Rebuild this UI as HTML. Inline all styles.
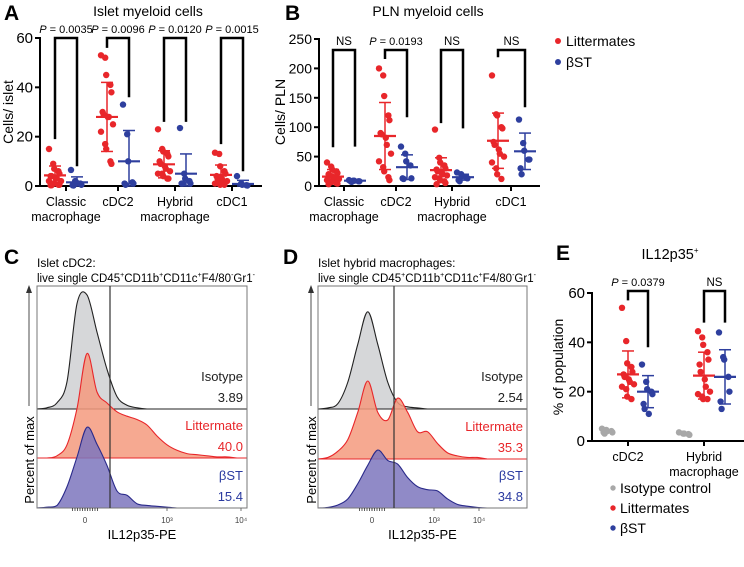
<!DOCTYPE html>
<html><head><meta charset="utf-8"><style>
body{margin:0;background:#fff}
svg{display:block;font-family:"Liberation Sans",Arial,sans-serif}
</style></head><body>
<svg id="fig" width="744" height="567" viewBox="0 0 744 567"></svg>
<script>
// ===== Panel A data (Islet myeloid cells) =====
const catsA=["Classic macrophage","cDC2","Hybrid macrophage","cDC1"];
const aRed=[[15,9,7,6,5,4,4,3,3,2,2,1,1,0.5,0.5,0.3,0.3],[53,52,45,41,38,30,29,28,28,25,22,17,15,10,9],[23,15,14,13,12,10,9,8,7,6,5,5,4,3,3],[13.5,13,8,6,5,4,3,3,2,2,1,1,0.5,0.5]];
const aBlue=[[6.5,2,1.5,1,0.5,0.3,0.2],[33,21,10,1.5,1,1,0.5],[23.5,5,3,2,1,1,1],[4,1,0.5,0.3,0.2]];
const aRedMean=[4.3,28,8.8,4.5], aRedSd=[3.8,14,5.5,4];
const aBlueMean=[1.5,10,5,0.8], aBlueSd=[2.2,12.5,8,1.5];
const aLegR=[19,56,26,17], aLegB=[8,36,26,6];
const aP=["0.0035","0.0096","0.0120","0.0015"];
const aTicks=[0,20,40,60];
// ===== Panel B data (PLN myeloid cells) =====
const bRed=[[40,33,28,25,22,20,18,15,13,12,10,8,7,5,4,3],[200,188,153,120,112,90,88,82,70,55,42,32,25,15,10],[96,48,40,35,30,28,25,22,20,18,15,13,10,8,5,3],[188,122,120,100,98,75,70,62,55,50,40,30,20,12]];
const bBlue=[[10,9,9,8,8,8,7],[67,55,42,35,13,13,12],[23,20,17,15,13,10,8],[113,73,60,45,45,30,20]];
const bRedMean=[16,85,27,77], bRedSd=[12,57,21,47];
const bBlueMean=[9,32,15,59], bBlueSd=[1,21,5,31];
const bLegR=[66,216,107,219], bLegB=[67,117,98,134];
const bP=["NS","0.0193","NS","NS"];
const bTicks=[0,50,100,150,200,250];
// ===== Panel E data (IL12p35+) =====
const eIso=[[5,4.5,4,4,3.5,3.5,3],[3.5,3,3,2.8,2.5]];
const eRed=[[54,40.5,31.5,30,28,27,26,25,24,23,22,21,18,17],[44.5,42,39,36,33,31,28,25,22,20,19,18,17,17]];
const eBlue=[[31,24,21,20,19,15,13,11],[44,34,33,26,20,16,13]];
const eRedMean=[27,26.5], eRedSd=[9.5,9.5];
const eBlueMean=[20,26], eBlueSd=[6.5,11];
const eLegR=[57,48], eLegB=[38,48];
const eP=["0.0379","NS"];
const eTicks=[0,20,40,60];
// ===== Histograms (fraction of max per channel bin) =====
const cIso=[0,0.01,0.05,0.22,0.85,0.92,0.62,0.32,0.1,0.03,0.01,0,0,0,0,0,0,0,0,0,0,0];
const cLit=[0,0,0.02,0.12,0.45,0.95,0.6,0.5,0.42,0.38,0.35,0.3,0.2,0.12,0.07,0.04,0.03,0.02,0.01,0.01,0,0];
const cBst=[0,0.01,0.03,0.25,0.6,0.95,0.75,0.5,0.2,0.15,0.05,0.03,0.02,0.01,0,0,0,0,0,0,0,0];
const dIso=[0,0.01,0.05,0.25,0.6,0.9,0.6,0.25,0.06,0.02,0.01,0,0,0,0,0,0,0,0,0,0,0];
const dLit=[0,0.02,0.1,0.25,0.6,1.0,0.6,0.5,0.78,0.6,0.35,0.35,0.2,0.08,0.04,0.02,0.02,0,0,0,0,0];
const dBst=[0,0.01,0.05,0.15,0.4,0.7,0.95,0.78,0.72,0.5,0.35,0.3,0.28,0.15,0.06,0.03,0.01,0,0,0,0,0];
const cVals=["3.89","40.0","15.4"], dVals=["2.54","35.3","34.8"];

const NS="http://www.w3.org/2000/svg";
const svg=document.getElementById('fig');
const RED="#e8262a",BLUE="#2e3f9e",GRAY="#a8a8a8";
function el(tag,attrs,parent){const e=document.createElementNS(NS,tag);for(const k in attrs)e.setAttribute(k,attrs[k]);(parent||svg).appendChild(e);return e;}
function txt(x,y,s,size,attrs,parent){const t=el('text',Object.assign({x:x,y:y,'font-size':size},attrs||{}),parent);t.textContent=s;return t;}

function dotPanel(cfg){
  const g=el('g',{});
  
  
  const y=v=>cfg.y0-(v/cfg.max)*(cfg.y0-cfg.yTop);
  const ax=el('path',{d:`M${cfg.x0},${cfg.yTop-1}V${cfg.y0}H${cfg.x1}`,stroke:'#000','stroke-width':2,fill:'none'},g);
  
  
  cfg.ticks.forEach(t=>{
    el('line',{x1:cfg.x0-5,x2:cfg.x0,y1:y(t),y2:y(t),stroke:'#000','stroke-width':2},g);
    const tl=txt(cfg.x0-7,y(t)+5,String(t),cfg.tickFont||15,{'text-anchor':'end'},g);
    
    
  });
  cfg.groups.forEach((gr,i)=>{
    el('line',{x1:gr.c,x2:gr.c,y1:cfg.y0,y2:cfg.y0+5,stroke:'#000','stroke-width':2},g);
    gr.label.forEach((l,j)=>{const t=txt(gr.c,cfg.y0+20+j*15,l,12.5,{'text-anchor':'middle'},g);
      
      });
  });
  cfg.series.forEach(s=>{
    s.data.forEach((pts,i)=>{
      const cx=s.xs[i];
      pts.forEach((v,k)=>{
        const off=((k%5)-2)*2.6+((k%2)?1:-1)*0.8;
        const c=el('circle',{cx:cx+off,cy:y(v),r:3.2,fill:s.color},g);
        
        
      });
      if(s.mean){
        const m=s.mean[i],sd=s.sd[i];
        const lo=Math.max(0,m-sd),hi=m+sd;
        el('line',{x1:cx,x2:cx,y1:y(lo),y2:y(hi),stroke:s.color,'stroke-width':1.5},g);
        el('line',{x1:cx-6,x2:cx+6,y1:y(lo),y2:y(lo),stroke:s.color,'stroke-width':1.5},g);
        el('line',{x1:cx-6,x2:cx+6,y1:y(hi),y2:y(hi),stroke:s.color,'stroke-width':1.5},g);
        const mb=el('line',{x1:cx-11,x2:cx+11,y1:y(m),y2:y(m),stroke:s.color,'stroke-width':2.2},g);
        
        
      }
    });
  });
  cfg.brackets.forEach((b,i)=>{
    const br=el('path',{d:`M${b.xl},${y(b.lr)}V${cfg.brTop}H${b.xr}V${y(b.lb)}`,stroke:'#000','stroke-width':2.5,fill:'none'},g);
    
    
    const mid=(b.xl+b.xr)/2;
    let t;
    if(b.p==="NS"){t=txt(mid,cfg.pY,"NS",11.5,{'text-anchor':'middle'},g);}
    else{t=el('text',{x:mid,y:cfg.pY,'font-size':11,'text-anchor':'middle'},g);
      const i1=el('tspan',{'font-style':'italic'},t);i1.textContent='P';
      const i2=el('tspan',{},t);i2.textContent=' = '+b.p;}
    
    
  });
}

const axA=[55,107,164,221], axB=[77,129,186,243];
dotPanel({name:'panel-a-chart',x0:40,x1:262,y0:186,yTop:38,max:60,ticks:aTicks,brTop:38,pY:33,
  groups:[{c:66,label:["Classic","macrophage"]},{c:118,label:["cDC2"]},{c:175,label:["Hybrid","macrophage"]},{c:232,label:["cDC1"]}],
  series:[{data:aRed,xs:axA,color:RED,mean:aRedMean,sd:aRedSd},{data:aBlue,xs:axB,color:BLUE,mean:aBlueMean,sd:aBlueSd}],
  brackets:aP.map((p,i)=>({xl:axA[i],xr:axB[i],lr:aLegR[i],lb:aLegB[i],p:p}))});
const bxA=[333,385,441,498], bxB=[355,407,463,525];
dotPanel({name:'panel-b-chart',x0:319,x1:540,y0:186,yTop:39,max:250,ticks:bTicks,brTop:50,pY:45,tickFont:14,
  groups:[{c:344,label:["Classic","macrophage"]},{c:396,label:["cDC2"]},{c:452,label:["Hybrid","macrophage"]},{c:511,label:["cDC1"]}],
  series:[{data:bRed,xs:bxA,color:RED,mean:bRedMean,sd:bRedSd},{data:bBlue,xs:bxB,color:BLUE,mean:bBlueMean,sd:bBlueSd}],
  brackets:bP.map((p,i)=>({xl:bxA[i],xr:bxB[i],lr:bLegR[i],lb:bLegB[i],p:p}))});
const exG=[608,685], exR=[628,704], exB=[648,725];
dotPanel({name:'panel-e-chart',x0:592,x1:744,y0:441,yTop:293,max:60,ticks:eTicks,brTop:291,pY:286,
  groups:[{c:628,label:["cDC2"]},{c:704,label:["Hybrid","macrophage"]}],
  series:[{data:eIso,xs:exG,color:GRAY},{data:eRed,xs:exR,color:RED,mean:eRedMean,sd:eRedSd},{data:eBlue,xs:exB,color:BLUE,mean:eBlueMean,sd:eBlueSd}],
  brackets:eP.map((p,i)=>({xl:exR[i],xr:exB[i],lr:eLegR[i],lb:eLegB[i],p:p}))});

function histPanel(cfg){
  const g=el('g',{});
  
  
  const L=cfg.left,R=cfg.right,T=286,B=508;
  const step=(R-L)/(cfg.rows[0].data.length-1);
  cfg.rows.forEach(r=>{
    const pts=r.data.map((v,i)=>[L+i*step,r.base-v*r.h]);
    let d=`M${L},${r.base}L${pts[0][0]},${pts[0][1]}`;
    for(let i=0;i<pts.length-1;i++){
      const p0=pts[Math.max(0,i-1)],p1=pts[i],p2=pts[i+1],p3=pts[Math.min(pts.length-1,i+2)];
      const c1=[p1[0]+(p2[0]-p0[0])/6,Math.min(r.base,p1[1]+(p2[1]-p0[1])/6)];
      const c2=[p2[0]-(p3[0]-p1[0])/6,Math.min(r.base,p2[1]-(p3[1]-p1[1])/6)];
      d+=`C${c1[0]},${c1[1]} ${c2[0]},${c2[1]} ${p2[0]},${p2[1]}`;
    }
    d+=`L${R},${r.base}Z`;
    const p=el('path',{d:d,fill:r.fill,'fill-opacity':0.85,stroke:r.stroke,'stroke-width':1.1},g);
    
    
    const t1=txt(R-4,r.base-28,r.label,13,{'text-anchor':'end',fill:r.tc},g);
    
    
    const t2=txt(R-4,r.base-7,r.val,13,{'text-anchor':'end',fill:r.tc},g);
    
    
  });
  el('rect',{x:L,y:T,width:R-L,height:B-T,fill:'none',stroke:'#777','stroke-width':1},g);
  const gl=el('line',{x1:cfg.gate,x2:cfg.gate,y1:T,y2:B,stroke:'#333','stroke-width':1.2},g);
  
  
  [[cfg.t0,'0'],[cfg.t3,'10³'],[cfg.t4,'10⁴']].forEach(([x,s])=>{
    el('line',{x1:x,x2:x,y1:B,y2:B+3,stroke:'#555','stroke-width':0.8},g);
    const t=txt(x,B+15,s,8,{'text-anchor':'middle',fill:'#444'},g);
    
    
  });
  for(let i=-5;i<=5;i++)el('line',{x1:cfg.t0+i*2.5,x2:cfg.t0+i*2.5,y1:B,y2:B+3,stroke:'#333','stroke-width':0.8},g);
  const xt=txt((L+R)/2,B+31,'IL12p35-PE',13,{'text-anchor':'middle'},g);
  
  
  const ax=cfg.yx;
  el('line',{x1:ax,x2:ax,y1:291,y2:406,stroke:'#888','stroke-width':1.5},g);
  el('path',{d:`M${ax-3},${293}L${ax},${285}L${ax+3},${293}Z`,fill:'#333'},g);
  const yt=txt(0,0,'Percent of max',13,{'text-anchor':'middle',transform:`translate(${ax+5},460) rotate(-90)`},g);
  
  
  const h1=txt(L,267,cfg.title,12,{},g);
  
  
  const h2=el('text',{x:L,y:282,'font-size':11.5},g);
  
  
  let up=false;
  [['live single CD45',0],['+',1],['CD11b',0],['+',1],['CD11c',0],['+',1],['F4/80',0],['-',1],['Gr1',0],['-',1]].forEach(([s,k])=>{
    let dy=0;
    if(k&&!up){dy=-5;up=true;} else if(!k&&up){dy=5;up=false;}
    const sp=el('tspan',{'font-size':k?7:11.5,dy:dy},h2);
    sp.textContent=s;
  });
}
histPanel({name:'panel-c-histogram',left:37,right:247,gate:110,t0:85,t3:167,t4:241,yx:29,title:'Islet cDC2:',
  rows:[{key:'isotype',data:cIso,base:409,h:124,fill:'#cfd0d2',stroke:'#222',label:'Isotype',val:cVals[0],tc:'#222'},
        {key:'littermate',data:cLit,base:458,h:110,fill:'#f59a7e',stroke:RED,label:'Littermate',val:cVals[1],tc:RED},
        {key:'bst',data:cBst,base:508,h:85,fill:'#7d76bd',stroke:'#2a2a8a',label:'βST',val:cVals[2],tc:'#2a3aa0'}]});
histPanel({name:'panel-d-histogram',left:318,right:527,gate:394,t0:372,t3:434,t4:479,yx:311,title:'Islet hybrid macrophages:',
  rows:[{key:'isotype',data:dIso,base:409,h:108,fill:'#cfd0d2',stroke:'#222',label:'Isotype',val:dVals[0],tc:'#222'},
        {key:'littermate',data:dLit,base:459,h:78,fill:'#f59a7e',stroke:RED,label:'Littermate',val:dVals[1],tc:RED},
        {key:'bst',data:dBst,base:508,h:61,fill:'#7d76bd',stroke:'#2a2a8a',label:'βST',val:dVals[2],tc:'#2a3aa0'}]});
</script>
<svg width="744" height="567" style="position:absolute;left:0;top:0;font-family:'Liberation Sans',Arial,sans-serif">
<text x="4" y="20" font-size="21" font-weight="bold">A</text>
<text x="285" y="20" font-size="21" font-weight="bold">B</text>
<text x="4" y="264" font-size="21" font-weight="bold">C</text>
<text x="283" y="264" font-size="21" font-weight="bold">D</text>
<text x="556" y="260" font-size="21" font-weight="bold">E</text>
<text x="148" y="16" font-size="14" text-anchor="middle">Islet myeloid cells</text>
<text x="428" y="16" font-size="14" text-anchor="middle">PLN myeloid cells</text>
<text x="670" y="259" font-size="14.5" text-anchor="middle">IL12p35<tspan font-size="8" dy="-6">+</tspan></text>
<text transform="translate(13,112) rotate(-90)" font-size="14" text-anchor="middle">Cells/ islet</text>
<text transform="translate(285,112) rotate(-90)" font-size="14" text-anchor="middle">Cells/ PLN</text>
<text transform="translate(563,367) rotate(-90)" font-size="14" text-anchor="middle">% of population</text>
<g>
<circle cx="558" cy="41" r="3" fill="#e8262a"/>
<text x="566" y="46" font-size="14">Littermates</text>
<circle cx="558" cy="62" r="3" fill="#2e3f9e"/>
<text x="566" y="67" font-size="14">βST</text>
</g>
<g>
<circle cx="613" cy="488" r="2.7" fill="#a8a8a8"/>
<text x="620" y="493" font-size="14">Isotype control</text>
<circle cx="613" cy="508" r="2.7" fill="#e8262a"/>
<text x="620" y="513" font-size="14">Littermates</text>
<circle cx="613" cy="528" r="2.7" fill="#2e3f9e"/>
<text x="620" y="533" font-size="14">βST</text>
</g>
</svg>
</body></html>
